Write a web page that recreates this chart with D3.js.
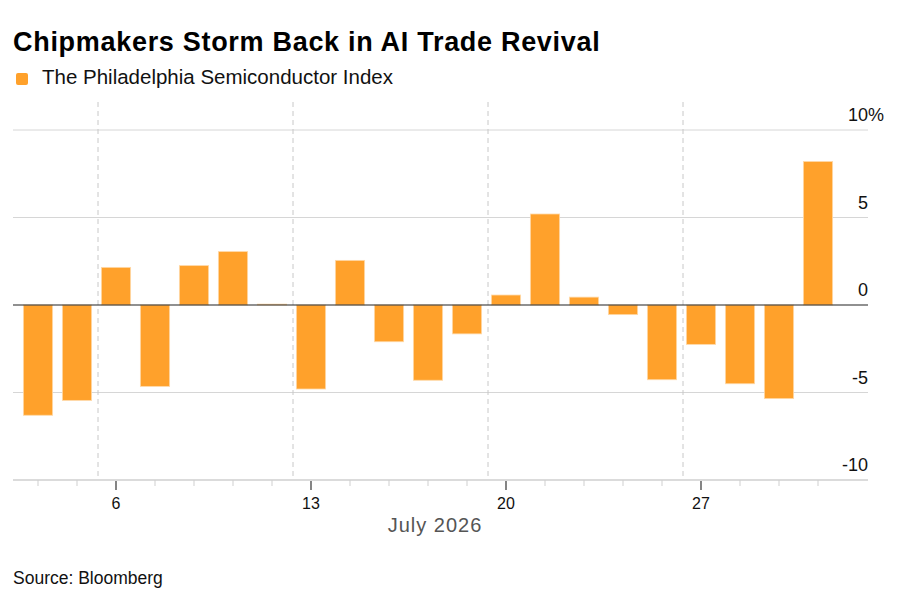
<!DOCTYPE html>
<html>
<head>
<meta charset="utf-8">
<script src="https://cdn.jsdelivr.net/npm/d3@7.8.5/dist/d3.min.js"></script>
<style>
  html, body { margin: 0; padding: 0; background: #fff; }
  svg { display: block; font-family: "Liberation Sans", Arial, sans-serif; }
</style>
</head>
<body>
<svg id="chart" width="900" height="591"></svg>
<script>
// trading days of July 2026
const days = [2, 3, 6, 7, 8, 9, 10, 13, 14, 15, 16, 17, 20, 21, 22, 23, 24, 27, 28, 29, 30];
// daily % change of the index
const changes = [-6.3, -5.45, 2.15, -4.65, 2.25, 3.05, 0.05, -4.8, 2.55, -2.1, -4.3, -1.65, 0.57, 5.2, 0.45, -0.55, -4.27, -2.25, -4.5, -5.35, 8.2];
const labelledDays = [6, 13, 20, 27];
const yTicks = [-10, -5, 0, 5, 10];

const title = 'Chipmakers Storm Back in AI Trade Revival';
const seriesName = 'The Philadelphia Semiconductor Index';
const axisTitle = 'July 2026';
const source = 'Source: Bloomberg';

const orange = '#ffa12b';

const svg = d3.select('#chart');

// заголовок и легенда
svg.append('text')
    .attr('x', 13).attr('y', 51)
    .attr('font-size', 27).attr('font-weight', 700)
    .attr('letter-spacing', 0.7)
    .attr('fill', '#000')
    .text(title);

svg.append('rect')
    .attr('x', 16).attr('y', 73)
    .attr('width', 12).attr('height', 12)
    .attr('rx', 2)
    .attr('fill', orange);

svg.append('text')
    .attr('x', 42).attr('y', 84)
    .attr('font-size', 20.5)
    .attr('fill', '#111')
    .text(seriesName);

// шкалы
const x = d3.scaleBand()
    .domain(days)
    .range([18.5, 837.5])
    .paddingInner(0.25)
    .paddingOuter(0.125);

const y = d3.scaleLinear()
    .domain([-10, 10])
    .range([480, 130]);

const left = 13, right = 868;
const cx = d => x(d) + x.bandwidth() / 2;

// сетка
svg.append('g')
    .selectAll('line')
    .data(yTicks.filter(d => d !== -10 && d !== 0))
    .join('line')
    .attr('x1', left).attr('x2', right)
    .attr('y1', d => y(d)).attr('y2', d => y(d))
    .attr('stroke', '#d6d6d6')
    .attr('stroke-width', 1);

// подписи оси Y
svg.append('g')
    .selectAll('text')
    .data(yTicks)
    .join('text')
    .attr('x', right)
    .attr('y', d => y(d) - 9)
    .attr('text-anchor', 'end')
    .attr('font-size', 18)
    .attr('fill', '#111')
    .text(d => d);

svg.append('text')
    .attr('x', right)
    .attr('y', y(yTicks[yTicks.length - 1]) - 9)
    .attr('font-size', 18)
    .attr('fill', '#111')
    .text('%');

// разделители недель
const weekStarts = days.filter((d, i) => i > 0 && d - days[i - 1] > 1);
const gap = x.step() - x.bandwidth();
svg.append('g')
    .selectAll('line')
    .data(weekStarts)
    .join('line')
    .attr('x1', d => x(d) - gap / 2 + 1.5)
    .attr('x2', d => x(d) - gap / 2 + 1.5)
    .attr('y1', 102).attr('y2', 480)
    .attr('stroke', '#c8c8c8')
    .attr('stroke-width', 1)
    .attr('stroke-dasharray', '5,4');

// столбцы
svg.append('g')
    .selectAll('rect')
    .data(days.map((d, i) => ({ day: d, value: changes[i] })))
    .join('rect')
    .attr('x', d => x(d.day))
    .attr('width', x.bandwidth())
    .attr('y', d => y(Math.max(0, d.value)))
    .attr('height', d => Math.abs(y(d.value) - y(0)))
    .attr('fill', orange)
    .attr('stroke', '#ffd9a8')
    .attr('stroke-width', 0.8);

// нулевая линия
svg.append('line')
    .attr('x1', left).attr('x2', right)
    .attr('y1', y(0)).attr('y2', y(0))
    .attr('stroke', '#222')
    .attr('stroke-width', 1.2);

// ось X
const xAxis = svg.append('g').attr('transform', `translate(0,${y(-10)})`);

xAxis.append('line')
    .attr('x1', left).attr('x2', right)
    .attr('stroke', '#cfcfcf')
    .attr('stroke-width', 1.5);

xAxis.selectAll('.minor')
    .data(days.filter(d => !labelledDays.includes(d)))
    .join('line')
    .attr('class', 'minor')
    .attr('x1', cx).attr('x2', cx)
    .attr('y1', 0).attr('y2', 6)
    .attr('stroke', '#cfcfcf');

xAxis.selectAll('.major')
    .data(labelledDays)
    .join('line')
    .attr('class', 'major')
    .attr('x1', cx).attr('x2', cx)
    .attr('y1', 1).attr('y2', 10)
    .attr('stroke', '#333')
    .attr('stroke-width', 1.2);

xAxis.selectAll('.lbl')
    .data(labelledDays)
    .join('text')
    .attr('class', 'lbl')
    .attr('x', cx)
    .attr('y', 29)
    .attr('text-anchor', 'middle')
    .attr('font-size', 16)
    .attr('fill', '#111')
    .text(d => d);

svg.append('text')
    .attr('x', 435).attr('y', 532)
    .attr('text-anchor', 'middle')
    .attr('font-size', 20)
    .attr('letter-spacing', 1)
    .attr('fill', '#555')
    .text(axisTitle);

svg.append('text')
    .attr('x', 13).attr('y', 584)
    .attr('font-size', 17.5)
    .attr('fill', '#111')
    .text(source);
</script>
</body>
</html>
